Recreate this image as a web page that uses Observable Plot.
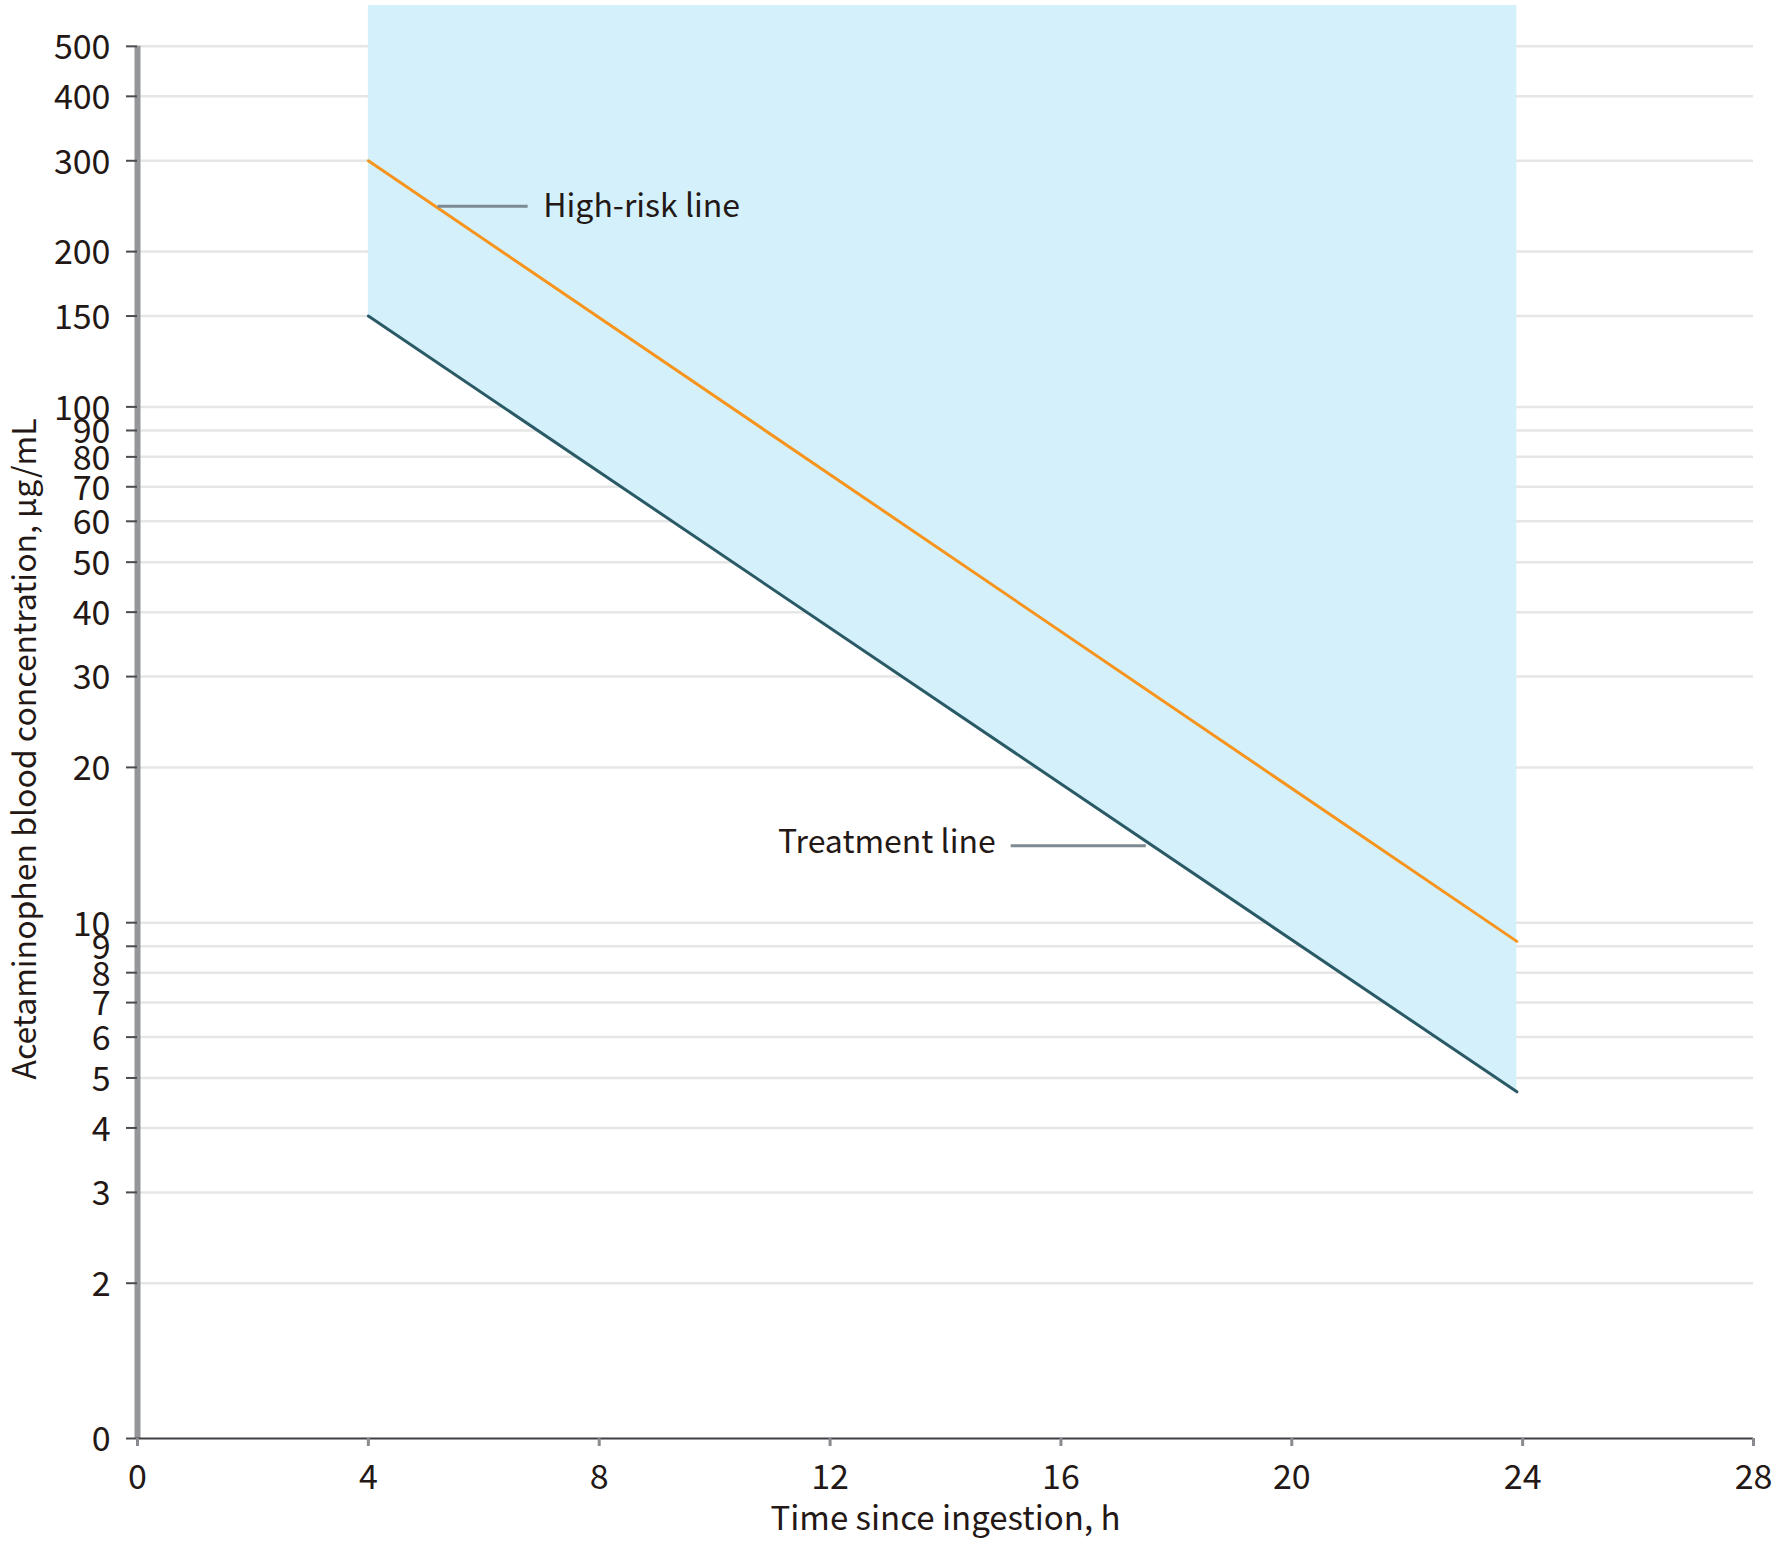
<!DOCTYPE html>
<html><head><meta charset="utf-8">
<script src="https://cdn.jsdelivr.net/npm/d3@7"></script>
<script src="https://cdn.jsdelivr.net/npm/@observablehq/plot@0.6"></script>
<style>html,body{margin:0;padding:0;background:#fff}</style>
</head><body><div id="chart"></div>
<script>
// ---- data ----
const hours = [4, 23.9];
const highRiskLine = [300, 9.2];
const treatmentLine = [150, 4.7];
const shadeTop = 600;
const xTicks = [0, 4, 8, 12, 16, 20, 24, 28];
const yTicks = [1, 2, 3, 4, 5, 6, 7, 8, 9, 10, 20, 30, 40, 50, 60, 70, 80, 90, 100, 150, 200, 300, 400, 500];
const yTickLabels = ["0", "2", "3", "4", "5", "6", "7", "8", "9", "10", "20", "30", "40", "50", "60", "70", "80", "90", "100", "150", "200", "300", "400", "500"];
const annoNames = ["High-risk line", "Treatment line"];
const annoLeaderFrom = [5.2, 15.13];
const annoLeaderTo = [6.76, 17.47];
const annoLevel = [245, 14.1];
const annoTextAt = [7.03, 14.87];
const annoAnchor = ["start", "end"];
const xTitle = "Time since ingestion, h";
const yTitle = "Acetaminophen blood concentration, µg/mL";

// ---- tables ----
const lineData = hours.map((t, i) => ({t, high: highRiskLine[i], treat: treatmentLine[i], top: shadeTop}));
const yTickTable = yTicks.map((v, i) => ({v, label: yTickLabels[i]}));
const annos = annoNames.map((name, i) => ({name, x1: annoLeaderFrom[i], x2: annoLeaderTo[i], y: annoLevel[i], tx: annoTextAt[i], anchor: annoAnchor[i]}));
const FONT = "'Noto Sans CJK JP', 'Noto Sans', sans-serif";
const INK = "#231815";

const chart = Plot.plot({
  width: 1775,
  height: 1546,
  marginLeft: 137,
  marginRight: 22,
  marginTop: 5,
  marginBottom: 108,
  style: {fontFamily: FONT, fontSize: "33px", color: INK, background: "#fff"},
  x: {domain: [0, 28]},
  y: {type: "log", domain: [1, shadeTop]},
  marks: [
    // gridlines
    Plot.ruleY(yTicks.filter(v => v > 1), {x1: 0, x2: 28, stroke: "#e6e6e6", strokeWidth: 2.5}),
    // shaded treatment zone
    Plot.areaY(lineData, {x: "t", y1: "treat", y2: "top", fill: "#d4f1fb", curve: "linear"}),
    // lines
    Plot.line(lineData, {x: "t", y: "high", stroke: "#f7941d", strokeWidth: 3}),
    Plot.line(lineData, {x: "t", y: "treat", stroke: "#2b5a67", strokeWidth: 3}),
    // annotation leaders and labels
    Plot.link(annos, {x1: "x1", x2: "x2", y1: "y", y2: "y", stroke: "#7d8a91", strokeWidth: 3}),
    Plot.text(annos.filter(d => d.anchor === "start"), {x: "tx", y: "y", text: "name", textAnchor: "start", lineAnchor: "middle", fontSize: 32, fill: INK, dy: 1}),
    Plot.text(annos.filter(d => d.anchor === "end"), {x: "tx", y: "y", text: "name", textAnchor: "end", lineAnchor: "middle", fontSize: 32, fill: INK, dy: -3}),
    // y axis line
    Plot.ruleX([0], {y1: 1, y2: 500, stroke: "#939598", strokeWidth: 6}),
    // x axis line
    Plot.ruleY([1], {x1: 0, x2: 28, stroke: "#3f3f44", strokeWidth: 2}),
    Plot.axisY({ticks: yTicks, tickFormat: () => "", tickSize: 11, stroke: "#4a4a4f", strokeWidth: 2, label: null}),
    Plot.text(yTickTable, {frameAnchor: "left", y: "v", text: "label", textAnchor: "end", lineAnchor: "middle", dx: -27, dy: 2, fontSize: 34, fill: INK}),
    Plot.axisX({ticks: xTicks, tickFormat: d => String(d), tickSize: 8, tickPadding: 18, stroke: "#8a8a8f", strokeWidth: 3, fill: INK, fontSize: 34, label: null}),
    // axis titles
    Plot.text([xTitle], {frameAnchor: "bottom", textAnchor: "middle", lineAnchor: "middle", dy: 81, text: d => d, fontSize: 33, fill: INK}),
    Plot.text([yTitle], {frameAnchor: "left", textAnchor: "middle", lineAnchor: "middle", dx: -112, dy: 27, rotate: -90, text: d => d, fontSize: 32, fill: INK})
  ]
});
document.getElementById("chart").appendChild(chart);
</script>
</body></html>
